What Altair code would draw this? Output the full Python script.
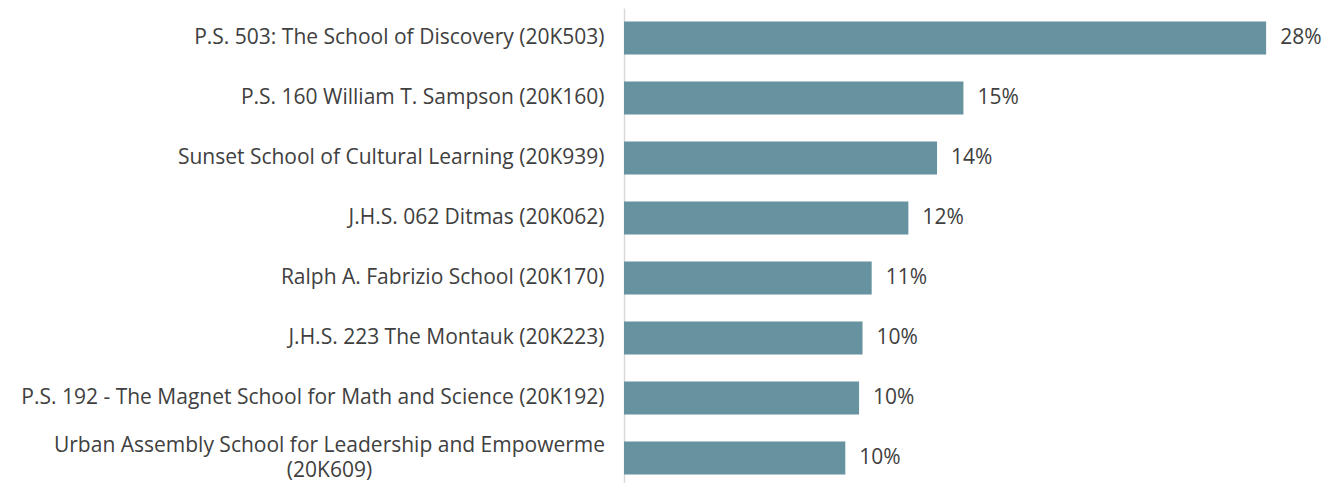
import altair as alt
import pandas as pd

schools = [
    "P.S. 503: The School of Discovery (20K503)",
    "P.S. 160 William T. Sampson (20K160)",
    "Sunset School of Cultural Learning (20K939)",
    "J.H.S. 062 Ditmas (20K062)",
    "Ralph A. Fabrizio School (20K170)",
    "J.H.S. 223 The Montauk (20K223)",
    "P.S. 192 - The Magnet School for Math and Science (20K192)",
    "Urban Assembly School for Leadership and Empowerme|(20K609)",
]
values = [28.0, 14.8, 13.65, 12.4, 10.8, 10.4, 10.25, 9.65]
labels = ["28%", "15%", "14%", "12%", "11%", "10%", "10%", "10%"]

df = pd.DataFrame({"school": schools, "value": values, "label": labels})

FONT = "Open Sans"
FS = 21
TEXT = "#404040"
WRAP = "indexof(datum.value, '|') >= 0"

y = alt.Y(
    "school:N",
    sort=None,
    title=None,
    scale=alt.Scale(paddingInner=0.45, paddingOuter=0.225),
    axis=alt.Axis(
        labelExpr="split(datum.value, '|')",
        labelFont=FONT,
        labelFontSize=FS,
        labelColor=TEXT,
        labelAlign={"condition": {"test": WRAP, "value": "center"}, "value": "right"},
        labelPadding={"condition": {"test": WRAP, "value": 295}, "value": 20},
        labelLimit=700,
        labelLineHeight=25,
        labelOffset={"condition": {"test": WRAP, "value": -12}, "value": 0},
        ticks=False,
        domainColor="#d9d9d9",
        domainWidth=1.5,
        grid=False,
    ),
)
x = alt.X("value:Q", scale=alt.Scale(domain=[0, 30]), axis=None)

bars = alt.Chart(df).mark_bar(color="#67929F").encode(x=x, y=y)
text = alt.Chart(df).mark_text(
    align="left", baseline="middle", dx=14, font=FONT, fontSize=FS, color=TEXT
).encode(x=x, y=alt.Y("school:N", sort=None), text="label:N")

chart = (
    alt.layer(bars, text)
    .properties(
        width=688,
        height=480,
        autosize=alt.AutoSizeParams(type="none"),
        padding={"left": 616, "top": 0, "right": 20, "bottom": 0},
    )
    .configure(background="white")
    .configure_view(stroke=None)
)

chart.save("out.html", embed_options={"renderer": "svg", "actions": False})
